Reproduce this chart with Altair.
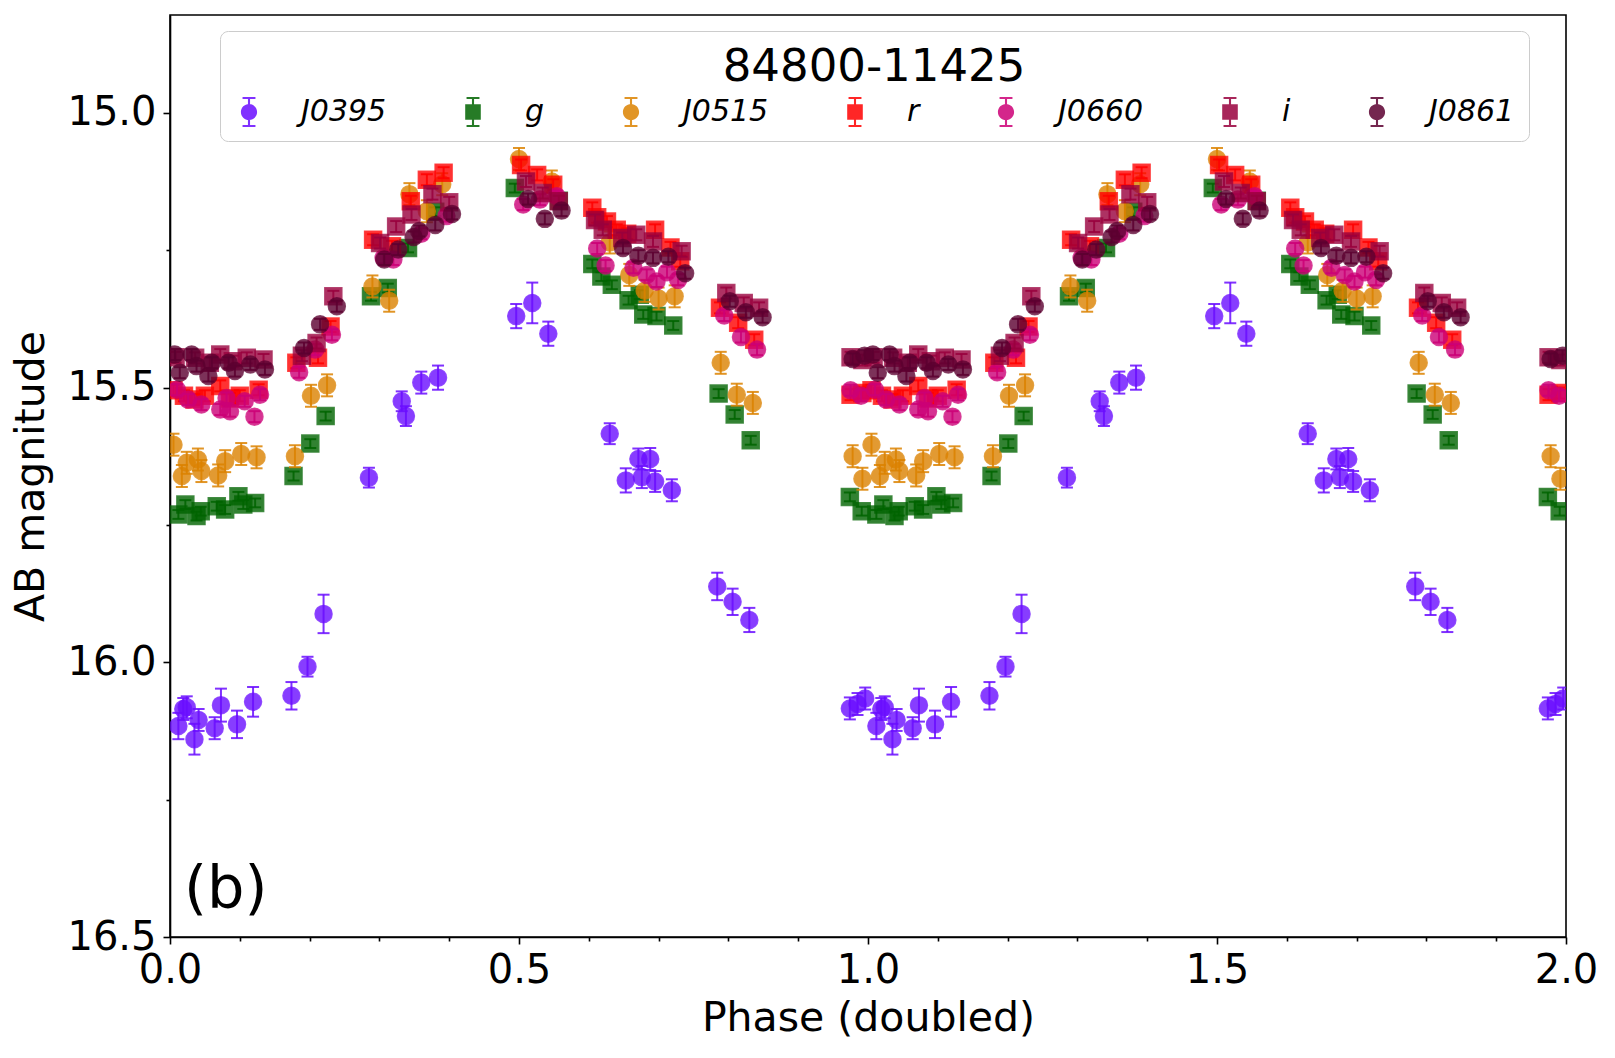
import altair as alt
import pandas as pd

# ---- light-curve measurements folded on one period (phase 0..1) ----
BANDS = ["J0395", "g", "J0515", "r", "J0660", "i", "J0861"]
COLORS = ["#6a0dff", "#006400", "#dc8200", "#ff0000", "#cc0077", "#99003d", "#5c0030"]
SHAPES = ["circle", "square", "circle", "square", "circle", "square", "circle"]

j0395_phase = [0.012, 0.019, 0.024, 0.035, 0.041, 0.064, 0.073, 0.096, 0.119, 0.174,
               0.197, 0.220, 0.285, 0.332, 0.338, 0.360, 0.384, 0.496, 0.519, 0.542,
               0.630, 0.653, 0.671, 0.676, 0.688, 0.695, 0.719, 0.784, 0.806, 0.830,
               0.974, 0.985, 0.996]
j0395_mag = [16.116, 16.085, 16.082, 16.140, 16.105, 16.120, 16.078, 16.113, 16.072, 16.061,
             16.008, 15.912, 15.664, 15.525, 15.552, 15.491, 15.482, 15.370, 15.346, 15.402,
             15.584, 15.669, 15.630, 15.663, 15.630, 15.671, 15.687, 15.862, 15.890, 15.923,
             16.084, 16.076, 16.066]
j0395_err = [0.024, 0.020, 0.020, 0.028, 0.020, 0.020, 0.030, 0.025, 0.027, 0.025,
             0.018, 0.035, 0.018, 0.018, 0.018, 0.020, 0.022, 0.022, 0.037, 0.022,
             0.019, 0.022, 0.019, 0.020, 0.020, 0.019, 0.020, 0.025, 0.024, 0.022,
             0.020, 0.020, 0.020]

g_phase = [0.012, 0.022, 0.038, 0.044, 0.067, 0.079, 0.098, 0.105, 0.122, 0.177,
           0.201, 0.223, 0.288, 0.312, 0.341, 0.380, 0.494, 0.557, 0.605, 0.618,
           0.633, 0.657, 0.673, 0.678, 0.697, 0.721, 0.786, 0.809, 0.832, 0.974, 0.991]
g_mag = [15.731, 15.713, 15.734, 15.725, 15.716, 15.722, 15.698, 15.713, 15.710, 15.661,
         15.602, 15.552, 15.334, 15.319, 15.246, 15.180, 15.137, 15.160, 15.275, 15.298,
         15.313, 15.341, 15.331, 15.367, 15.370, 15.387, 15.511, 15.549, 15.596, 15.699, 15.725]
g_err = 0.008

j0515_phase = [0.005, 0.017, 0.024, 0.040, 0.045, 0.069, 0.079, 0.102, 0.124, 0.179,
               0.202, 0.225, 0.290, 0.314, 0.343, 0.368, 0.390, 0.500, 0.547, 0.630,
               0.658, 0.680, 0.700, 0.723, 0.789, 0.812, 0.835, 0.978, 0.992]
j0515_mag = [15.604, 15.661, 15.637, 15.631, 15.652, 15.660, 15.634, 15.621, 15.627, 15.625,
             15.515, 15.496, 15.316, 15.342, 15.148, 15.179, 15.130, 15.084, 15.125, 15.236,
             15.295, 15.324, 15.338, 15.334, 15.455, 15.513, 15.528, 15.625, 15.666]
j0515_err = 0.020

r_phase = [0.005, 0.020, 0.035, 0.050, 0.072, 0.086, 0.100, 0.127, 0.181, 0.212,
           0.230, 0.291, 0.318, 0.345, 0.368, 0.392, 0.503, 0.526, 0.549, 0.605,
           0.612, 0.626, 0.640, 0.655, 0.695, 0.717, 0.731, 0.788, 0.814, 0.837,
           0.975, 0.992]
r_mag = [15.505, 15.515, 15.522, 15.515, 15.497, 15.520, 15.515, 15.504, 15.455, 15.446,
         15.389, 15.231, 15.243, 15.161, 15.122, 15.109, 15.095, 15.113, 15.131, 15.173,
         15.190, 15.198, 15.213, 15.220, 15.213, 15.245, 15.270, 15.355, 15.382, 15.413,
         15.513, 15.510]
r_err = 0.010

j0660_phase = [0.010, 0.026, 0.045, 0.072, 0.081, 0.086, 0.107, 0.121, 0.129, 0.185,
               0.208, 0.232, 0.306, 0.320, 0.360, 0.396, 0.506, 0.530, 0.554, 0.612,
               0.624, 0.664, 0.683, 0.697, 0.712, 0.728, 0.794, 0.818, 0.841, 0.975, 0.990]
j0660_mag = [15.504, 15.522, 15.531, 15.540, 15.519, 15.543, 15.525, 15.553, 15.513, 15.472,
             15.431, 15.404, 15.264, 15.267, 15.220, 15.188, 15.167, 15.158, 15.152, 15.247,
             15.278, 15.282, 15.295, 15.307, 15.290, 15.304, 15.369, 15.408, 15.431, 15.505, 15.515]
j0660_err = 0.010

i_phase = [0.008, 0.036, 0.057, 0.072, 0.090, 0.110, 0.134, 0.189, 0.210, 0.234,
           0.301, 0.324, 0.346, 0.376, 0.400, 0.510, 0.534, 0.557, 0.609, 0.620,
           0.648, 0.668, 0.692, 0.733, 0.797, 0.822, 0.844, 0.975, 0.992]
i_mag = [15.445, 15.446, 15.455, 15.440, 15.452, 15.446, 15.449, 15.442, 15.419, 15.334,
         15.237, 15.207, 15.185, 15.148, 15.163, 15.125, 15.146, 15.161, 15.195, 15.213,
         15.228, 15.222, 15.234, 15.252, 15.328, 15.346, 15.355, 15.445, 15.450]
i_err = 0.010

j0861_phase = [0.007, 0.014, 0.031, 0.038, 0.055, 0.060, 0.084, 0.093, 0.115, 0.136,
               0.192, 0.215, 0.239, 0.307, 0.327, 0.349, 0.357, 0.380, 0.404, 0.513,
               0.537, 0.561, 0.649, 0.671, 0.692, 0.714, 0.738, 0.802, 0.825, 0.849,
               0.978, 0.995]
j0861_mag = [15.440, 15.473, 15.440, 15.461, 15.479, 15.455, 15.455, 15.470, 15.458, 15.467,
             15.428, 15.385, 15.352, 15.267, 15.249, 15.226, 15.215, 15.204, 15.184, 15.157,
             15.193, 15.178, 15.246, 15.260, 15.264, 15.262, 15.292, 15.343, 15.363, 15.372,
             15.448, 15.442]
j0861_err = 0.010

X_MAJOR = [0.0, 0.5, 1.0, 1.5, 2.0]
X_MINOR = [0.1, 0.2, 0.3, 0.4, 0.6, 0.7, 0.8, 0.9, 1.1, 1.2, 1.3, 1.4, 1.6, 1.7, 1.8, 1.9]
Y_MAJOR = [15.0, 15.5, 16.0, 16.5]
Y_MINOR = [15.25, 15.75, 16.25]

series = [
    ("J0395", j0395_phase, j0395_mag, j0395_err),
    ("g", g_phase, g_mag, g_err),
    ("J0515", j0515_phase, j0515_mag, j0515_err),
    ("r", r_phase, r_mag, r_err),
    ("J0660", j0660_phase, j0660_mag, j0660_err),
    ("i", i_phase, i_mag, i_err),
    ("J0861", j0861_phase, j0861_mag, j0861_err),
]

# Fold twice: each measurement is shown at phase and phase + 1
rows = []
for band, ph, mg, er in series:
    errs = er if isinstance(er, list) else [er] * len(ph)
    for cycle in (0, 1):
        for p, m, e in zip(ph, mg, errs):
            rows.append({"band": band, "phase": p + cycle, "mag": m,
                         "lo": m - e, "hi": m + e})
df = pd.DataFrame(rows)

xs = alt.Scale(domain=[0, 2], nice=False, zero=False)
ys = alt.Scale(domain=[14.822, 16.5], reverse=True, nice=False, zero=False)

# Legend glyphs: marker with a capped vertical error bar (unit box -1..1)
ERRBAR = ("M-0.07,-1L0.07,-1L0.07,1L-0.07,1Z"
          "M-0.43,-1L0.43,-1L0.43,-0.87L-0.43,-0.87Z"
          "M-0.43,0.87L0.43,0.87L0.43,1L-0.43,1Z")
GLYPH = {
    "circle": "M0.54,0A0.54,0.54 0 1,1 -0.54,0A0.54,0.54 0 1,1 0.54,0Z" + ERRBAR,
    "square": "M-0.52,-0.52L0.52,-0.52L0.52,0.52L-0.52,0.52Z" + ERRBAR,
}
cs = alt.Scale(domain=BANDS, range=COLORS)
gs = alt.Scale(domain=BANDS, range=[GLYPH[s] for s in SHAPES])

legend_box = alt.Legend(
    title="84800-11425",
    orient="none", legendX=50, legendY=16, direction="horizontal", columns=7,
    gridAlign="each", columnPadding=71, labelOffset=37,
    symbolSize=900, symbolOpacity=0.85, symbolStrokeWidth=0,
    labelFont="DejaVu Sans", labelFontSize=30, labelFontStyle="italic", labelColor="black",
    labelLimit=400,
    titleFont="DejaVu Sans", titleFontSize=45, titleFontWeight="normal", titleColor="black",
    titleAnchor="middle", titleLimit=1200, titlePadding=7,
    padding=14, strokeColor="#cccccc", fillColor="white", cornerRadius=8,
)

base = alt.Chart(df)
layers = []
for band, colour, shape in zip(BANDS, COLORS, SHAPES):
    sub = base.transform_filter(alt.datum.band == band)
    bar = sub.mark_rule(strokeWidth=2, opacity=0.85, color=colour, clip=True).encode(
        x=alt.X("phase:Q", scale=xs, axis=None),
        y=alt.Y("lo:Q", scale=ys, axis=None),
        y2="hi:Q",
    )
    cap_lo = sub.mark_tick(orient="horizontal", size=12, thickness=2, opacity=0.85,
                           color=colour, clip=True).encode(
        x=alt.X("phase:Q", scale=xs, axis=None),
        y=alt.Y("lo:Q", scale=ys, axis=None),
    )
    cap_hi = sub.mark_tick(orient="horizontal", size=12, thickness=2, opacity=0.85,
                           color=colour, clip=True).encode(
        x=alt.X("phase:Q", scale=xs, axis=None),
        y=alt.Y("hi:Q", scale=ys, axis=None),
    )
    pts = sub.mark_point(filled=True, shape=shape, size=289, opacity=0.8, color=colour,
                         stroke=colour, strokeWidth=1.5, strokeOpacity=0.9, clip=True).encode(
        x=alt.X("phase:Q", scale=xs, axis=None),
        y=alt.Y("mag:Q", scale=ys, axis=None),
    )
    layers += [bar, cap_lo, cap_hi, pts]

# Legend carrier: no rows pass the filter, only the legend is drawn
legend_layer = base.transform_filter(alt.datum.band == "-").mark_point(
    filled=True, opacity=0.85
).encode(
    x=alt.X("phase:Q", scale=xs, axis=None),
    y=alt.Y("mag:Q", scale=ys, axis=None),
    color=alt.Color("band:N", scale=cs, legend=legend_box),
    shape=alt.Shape("band:N", scale=gs, legend=legend_box),
)

# Major axes with labels and titles
major_axes = base.mark_point(opacity=0).encode(
    x=alt.X("phase:Q", scale=xs, title="Phase (doubled)",
            axis=alt.Axis(values=X_MAJOR, format=".1f", orient="bottom", tickSize=7,
                          labelPadding=6, titlePadding=8)),
    y=alt.Y("mag:Q", scale=ys, title="AB magnitude",
            axis=alt.Axis(values=Y_MAJOR, format=".1f", orient="left", tickSize=7,
                          labelPadding=7, titlePadding=14)),
)
# Minor ticks, no labels
minor_axes = base.mark_point(opacity=0).encode(
    x=alt.X("phase:Q", scale=xs, title=None,
            axis=alt.Axis(values=X_MINOR, orient="bottom", labels=False, tickSize=4,
                          domain=False)),
    y=alt.Y("mag:Q", scale=ys, title=None,
            axis=alt.Axis(values=Y_MINOR, orient="left", labels=False, tickSize=4,
                          domain=False)),
)

panel_tag = alt.Chart(pd.DataFrame({"t": ["(b)"]})).mark_text(
    align="left", baseline="alphabetic", fontSize=59, font="DejaVu Sans", color="black"
).encode(text="t:N", x=alt.value(14), y=alt.value(893))

chart = alt.layer(major_axes, minor_axes, *layers, legend_layer, panel_tag).resolve_axis(
    x="independent", y="independent"
).properties(
    width=1396, height=922,
    padding={"left": 170, "top": 15, "right": 49, "bottom": 121},
    autosize=alt.AutoSizeParams(type="none"),
).configure_view(
    stroke="black", strokeWidth=1.6
).configure_axis(
    labelFont="DejaVu Sans", titleFont="DejaVu Sans",
    labelFontSize=40, titleFontSize=41, titleFontWeight="normal",
    labelColor="black", titleColor="black",
    domainColor="black", tickColor="black", domainWidth=1.6, tickWidth=1.6,
    grid=False, labelFlush=False,
)

chart.save("out.html", embed_options={"renderer": "svg", "actions": False})
